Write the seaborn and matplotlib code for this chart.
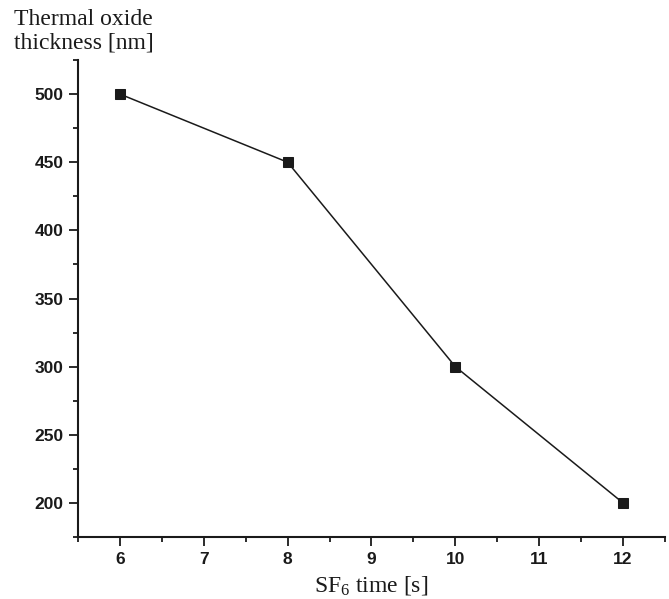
import matplotlib
matplotlib.use("Agg")
import matplotlib.pyplot as plt
from matplotlib.ticker import MultipleLocator
import seaborn as sns
import pandas as pd

# data
sf6_time = [6, 8, 10, 12]
thickness = [500, 450, 300, 200]

df = pd.DataFrame({"time": sf6_time, "thickness": thickness})

sns.set_style("ticks")
plt.rcParams["mathtext.fontset"] = "custom"
plt.rcParams["mathtext.rm"] = "Liberation Serif"

fig = plt.figure(figsize=(6.69, 5.99), dpi=100)
ax = fig.add_axes([0.1166, 0.1035, 0.8774, 0.7963])

sns.lineplot(data=df, x="time", y="thickness", ax=ax, color="#1a1a1a",
             linewidth=1.1, marker="s", markersize=7, markeredgecolor="#1a1a1a")

ax.set_xlim(5.5, 12.5)
ax.set_ylim(175, 525)
ax.xaxis.set_major_locator(MultipleLocator(1))
ax.xaxis.set_minor_locator(MultipleLocator(0.5))
ax.yaxis.set_major_locator(MultipleLocator(50))
ax.yaxis.set_minor_locator(MultipleLocator(25))

ax.tick_params(which="major", direction="out", length=6.5, width=1.3,
               color="#1a1a1a", pad=4)
ax.tick_params(which="minor", direction="out", length=3.5, width=1.3,
               color="#1a1a1a")
for lab in ax.get_xticklabels() + ax.get_yticklabels():
    lab.set_fontfamily("Liberation Sans")
    lab.set_fontweight("bold")
    lab.set_fontsize(12.5)
    lab.set_color("#1a1a1a")

for side in ["top", "right"]:
    ax.spines[side].set_visible(False)
for side in ["left", "bottom"]:
    ax.spines[side].set_linewidth(1.5)
    ax.spines[side].set_color("#1a1a1a")

ax.set_xlabel("")
ax.set_ylabel("")
fig.text(0.021, 0.985, "Thermal oxide\nthickness [nm]", ha="left", va="top",
         fontfamily="Liberation Serif", fontsize=17, color="#1a1a1a",
         linespacing=1.15)
fig.text(0.555, 0.004, r"SF$\mathregular{_6}$ time [s]", ha="center",
         va="bottom", fontfamily="Liberation Serif", fontsize=17,
         color="#1a1a1a")

fig.savefig("out.png", dpi=100)
